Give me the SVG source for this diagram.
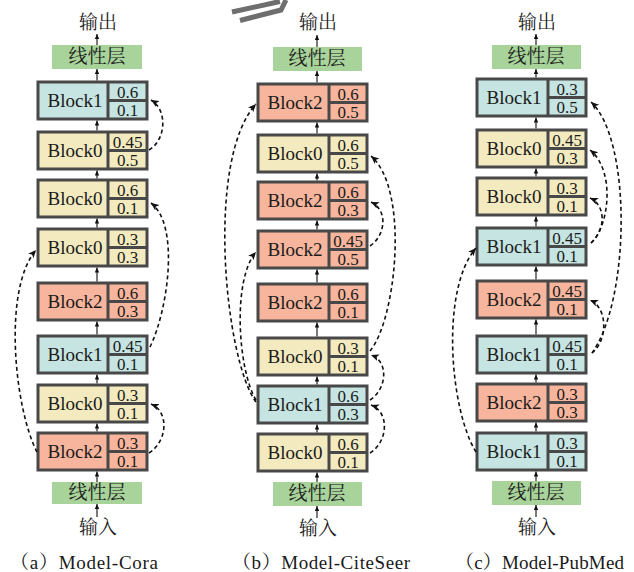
<svg xmlns="http://www.w3.org/2000/svg" width="634" height="572" viewBox="0 0 634 572" font-family="Liberation Serif, serif">
<defs>
<style>
.blk rect{stroke:#484848;stroke-width:3}
.blk line{stroke:#484848;stroke-width:3}
.t0 rect{fill:#f3eabf}
.t1 rect{fill:#c6e4e1}
.t2 rect{fill:#f6b59c}
.lbl{font-size:19px;text-anchor:middle;fill:#1a1a1a}
.val{font-size:17px;text-anchor:middle;fill:#1a1a1a}
.lin rect{fill:#a8d49b}
.cjk{font-size:19px;text-anchor:middle;fill:#1a1a1a}
.cap{font-size:19px;fill:#1a1a1a}
.sa{stroke:#333;stroke-width:1.3;fill:none;marker-end:url(#ah)}
.da{stroke:#111;stroke-width:1.6;fill:none;stroke-dasharray:4 3;marker-end:url(#dh)}
</style>
<marker id="ah" markerUnits="userSpaceOnUse" markerWidth="6" markerHeight="5" refX="5" refY="2.2" orient="auto"><path d="M0,0 L5,2.2 L0,4.4 z" fill="#111"/></marker>
<marker id="dh" markerUnits="userSpaceOnUse" markerWidth="9" markerHeight="8" refX="8" refY="3.5" orient="auto"><path d="M0,0 L8,3.5 L0,7 L2,3.5 z" fill="#111"/></marker>
</defs>
<rect width="634" height="572" fill="#fff"/>

<!-- stray mark -->
<g id="mark" fill="none" stroke="#6e6e6e" stroke-width="5">
<path d="M232,12 L280,1.5"/>
<path d="M240,20.5 L281,10 L286,0"/>
</g>

<!-- Panel a -->
<g id="a-out"><text class="cjk" font-family="Noto Serif CJK SC, Noto Sans CJK SC, serif" x="98" y="29">输出</text></g>
<g id="a-lin-top" class="lin"><rect x="52" y="45" width="90" height="24"/><text class="cjk" font-family="Noto Serif CJK SC, Noto Sans CJK SC, serif" x="97" y="63">线性层</text></g>
<g id="a1" class="blk t1" transform="translate(38,82)"><rect width="109" height="37"/><line x1="70" y1="0" x2="70" y2="37"/><line x1="70" y1="18.5" x2="109" y2="18.5"/><text class="lbl" x="37" y="25">Block1</text><text class="val" x="89.5" y="15.5">0.6</text><text class="val" x="89.5" y="33.5">0.1</text></g>
<g id="a2" class="blk t0" transform="translate(38,132)"><rect width="109" height="37"/><line x1="70" y1="0" x2="70" y2="37"/><line x1="70" y1="18.5" x2="109" y2="18.5"/><text class="lbl" x="37" y="25">Block0</text><text class="val" x="89.5" y="15.5">0.45</text><text class="val" x="89.5" y="33.5">0.5</text></g>
<g id="a3" class="blk t0" transform="translate(38,180)"><rect width="109" height="37"/><line x1="70" y1="0" x2="70" y2="37"/><line x1="70" y1="18.5" x2="109" y2="18.5"/><text class="lbl" x="37" y="25">Block0</text><text class="val" x="89.5" y="15.5">0.6</text><text class="val" x="89.5" y="33.5">0.1</text></g>
<g id="a4" class="blk t0" transform="translate(38,229)"><rect width="109" height="37"/><line x1="70" y1="0" x2="70" y2="37"/><line x1="70" y1="18.5" x2="109" y2="18.5"/><text class="lbl" x="37" y="25">Block0</text><text class="val" x="89.5" y="15.5">0.3</text><text class="val" x="89.5" y="33.5">0.3</text></g>
<g id="a5" class="blk t2" transform="translate(38,283)"><rect width="109" height="37"/><line x1="70" y1="0" x2="70" y2="37"/><line x1="70" y1="18.5" x2="109" y2="18.5"/><text class="lbl" x="37" y="25">Block2</text><text class="val" x="89.5" y="15.5">0.6</text><text class="val" x="89.5" y="33.5">0.3</text></g>
<g id="a6" class="blk t1" transform="translate(38,336)"><rect width="109" height="37"/><line x1="70" y1="0" x2="70" y2="37"/><line x1="70" y1="18.5" x2="109" y2="18.5"/><text class="lbl" x="37" y="25">Block1</text><text class="val" x="89.5" y="15.5">0.45</text><text class="val" x="89.5" y="33.5">0.1</text></g>
<g id="a7" class="blk t0" transform="translate(38,385)"><rect width="109" height="37"/><line x1="70" y1="0" x2="70" y2="37"/><line x1="70" y1="18.5" x2="109" y2="18.5"/><text class="lbl" x="37" y="25">Block0</text><text class="val" x="89.5" y="15.5">0.3</text><text class="val" x="89.5" y="33.5">0.1</text></g>
<g id="a8" class="blk t2" transform="translate(38,433)"><rect width="109" height="37"/><line x1="70" y1="0" x2="70" y2="37"/><line x1="70" y1="18.5" x2="109" y2="18.5"/><text class="lbl" x="37" y="25">Block2</text><text class="val" x="89.5" y="15.5">0.3</text><text class="val" x="89.5" y="33.5">0.1</text></g>
<g id="a-lin-bot" class="lin"><rect x="52" y="482" width="90" height="22"/><text class="cjk" font-family="Noto Serif CJK SC, Noto Sans CJK SC, serif" x="97" y="499">线性层</text></g>
<g id="a-in"><text class="cjk" font-family="Noto Serif CJK SC, Noto Sans CJK SC, serif" x="98" y="534">输入</text></g>
<g id="a-cap"><text class="cap" font-family="Liberation Serif, Noto Serif CJK SC, serif" x="10" y="569" textLength="148" lengthAdjust="spacing">（a）Model-Cora</text></g>

<!-- Panel b -->
<g id="b-out"><text class="cjk" font-family="Noto Serif CJK SC, Noto Sans CJK SC, serif" x="318" y="29">输出</text></g>
<g id="b-lin-top" class="lin"><rect x="273" y="47" width="89" height="24"/><text class="cjk" font-family="Noto Serif CJK SC, Noto Sans CJK SC, serif" x="317" y="65">线性层</text></g>
<g id="b1" class="blk t2" transform="translate(258,84)"><rect width="109" height="37"/><line x1="71" y1="0" x2="71" y2="37"/><line x1="71" y1="18.5" x2="109" y2="18.5"/><text class="lbl" x="37" y="25">Block2</text><text class="val" x="90" y="15.5">0.6</text><text class="val" x="90" y="33.5">0.5</text></g>
<g id="b2" class="blk t0" transform="translate(258,135)"><rect width="109" height="37"/><line x1="71" y1="0" x2="71" y2="37"/><line x1="71" y1="18.5" x2="109" y2="18.5"/><text class="lbl" x="37" y="25">Block0</text><text class="val" x="90" y="15.5">0.6</text><text class="val" x="90" y="33.5">0.5</text></g>
<g id="b3" class="blk t2" transform="translate(258,182)"><rect width="109" height="37"/><line x1="71" y1="0" x2="71" y2="37"/><line x1="71" y1="18.5" x2="109" y2="18.5"/><text class="lbl" x="37" y="25">Block2</text><text class="val" x="90" y="15.5">0.6</text><text class="val" x="90" y="33.5">0.3</text></g>
<g id="b4" class="blk t2" transform="translate(258,231)"><rect width="109" height="37"/><line x1="71" y1="0" x2="71" y2="37"/><line x1="71" y1="18.5" x2="109" y2="18.5"/><text class="lbl" x="37" y="25">Block2</text><text class="val" x="90" y="15.5">0.45</text><text class="val" x="90" y="33.5">0.5</text></g>
<g id="b5" class="blk t2" transform="translate(258,284)"><rect width="109" height="37"/><line x1="71" y1="0" x2="71" y2="37"/><line x1="71" y1="18.5" x2="109" y2="18.5"/><text class="lbl" x="37" y="25">Block2</text><text class="val" x="90" y="15.5">0.6</text><text class="val" x="90" y="33.5">0.1</text></g>
<g id="b6" class="blk t0" transform="translate(258,338)"><rect width="109" height="37"/><line x1="71" y1="0" x2="71" y2="37"/><line x1="71" y1="18.5" x2="109" y2="18.5"/><text class="lbl" x="37" y="25">Block0</text><text class="val" x="90" y="15.5">0.3</text><text class="val" x="90" y="33.5">0.1</text></g>
<g id="b7" class="blk t1" transform="translate(258,386)"><rect width="109" height="37"/><line x1="71" y1="0" x2="71" y2="37"/><line x1="71" y1="18.5" x2="109" y2="18.5"/><text class="lbl" x="37" y="25">Block1</text><text class="val" x="90" y="15.5">0.6</text><text class="val" x="90" y="33.5">0.3</text></g>
<g id="b8" class="blk t0" transform="translate(258,434)"><rect width="109" height="37"/><line x1="71" y1="0" x2="71" y2="37"/><line x1="71" y1="18.5" x2="109" y2="18.5"/><text class="lbl" x="37" y="25">Block0</text><text class="val" x="90" y="15.5">0.6</text><text class="val" x="90" y="33.5">0.1</text></g>
<g id="b-lin-bot" class="lin"><rect x="273" y="482" width="89" height="24"/><text class="cjk" font-family="Noto Serif CJK SC, Noto Sans CJK SC, serif" x="317" y="500">线性层</text></g>
<g id="b-in"><text class="cjk" font-family="Noto Serif CJK SC, Noto Sans CJK SC, serif" x="318" y="535">输入</text></g>
<g id="b-cap"><text class="cap" font-family="Liberation Serif, Noto Serif CJK SC, serif" x="232" y="569" textLength="178" lengthAdjust="spacing">（b）Model-CiteSeer</text></g>

<!-- Panel c -->
<g id="c-out"><text class="cjk" font-family="Noto Serif CJK SC, Noto Sans CJK SC, serif" x="537" y="29">输出</text></g>
<g id="c-lin-top" class="lin"><rect x="492" y="45" width="89" height="24"/><text class="cjk" font-family="Noto Serif CJK SC, Noto Sans CJK SC, serif" x="536" y="63">线性层</text></g>
<g id="c1" class="blk t1" transform="translate(477,79)"><rect width="109" height="37"/><line x1="71" y1="0" x2="71" y2="37"/><line x1="71" y1="18.5" x2="109" y2="18.5"/><text class="lbl" x="37" y="25">Block1</text><text class="val" x="90" y="15.5">0.3</text><text class="val" x="90" y="33.5">0.5</text></g>
<g id="c2" class="blk t0" transform="translate(477,130)"><rect width="109" height="37"/><line x1="71" y1="0" x2="71" y2="37"/><line x1="71" y1="18.5" x2="109" y2="18.5"/><text class="lbl" x="37" y="25">Block0</text><text class="val" x="90" y="15.5">0.45</text><text class="val" x="90" y="33.5">0.3</text></g>
<g id="c3" class="blk t0" transform="translate(477,178)"><rect width="109" height="37"/><line x1="71" y1="0" x2="71" y2="37"/><line x1="71" y1="18.5" x2="109" y2="18.5"/><text class="lbl" x="37" y="25">Block0</text><text class="val" x="90" y="15.5">0.3</text><text class="val" x="90" y="33.5">0.1</text></g>
<g id="c4" class="blk t1" transform="translate(477,228)"><rect width="109" height="37"/><line x1="71" y1="0" x2="71" y2="37"/><line x1="71" y1="18.5" x2="109" y2="18.5"/><text class="lbl" x="37" y="25">Block1</text><text class="val" x="90" y="15.5">0.45</text><text class="val" x="90" y="33.5">0.1</text></g>
<g id="c5" class="blk t2" transform="translate(477,281)"><rect width="109" height="37"/><line x1="71" y1="0" x2="71" y2="37"/><line x1="71" y1="18.5" x2="109" y2="18.5"/><text class="lbl" x="37" y="25">Block2</text><text class="val" x="90" y="15.5">0.45</text><text class="val" x="90" y="33.5">0.1</text></g>
<g id="c6" class="blk t1" transform="translate(477,336)"><rect width="109" height="37"/><line x1="71" y1="0" x2="71" y2="37"/><line x1="71" y1="18.5" x2="109" y2="18.5"/><text class="lbl" x="37" y="25">Block1</text><text class="val" x="90" y="15.5">0.45</text><text class="val" x="90" y="33.5">0.1</text></g>
<g id="c7" class="blk t2" transform="translate(477,384)"><rect width="109" height="37"/><line x1="71" y1="0" x2="71" y2="37"/><line x1="71" y1="18.5" x2="109" y2="18.5"/><text class="lbl" x="37" y="25">Block2</text><text class="val" x="90" y="15.5">0.3</text><text class="val" x="90" y="33.5">0.3</text></g>
<g id="c8" class="blk t1" transform="translate(477,433)"><rect width="109" height="37"/><line x1="71" y1="0" x2="71" y2="37"/><line x1="71" y1="18.5" x2="109" y2="18.5"/><text class="lbl" x="37" y="25">Block1</text><text class="val" x="90" y="15.5">0.3</text><text class="val" x="90" y="33.5">0.1</text></g>
<g id="c-lin-bot" class="lin"><rect x="492" y="481" width="89" height="24"/><text class="cjk" font-family="Noto Serif CJK SC, Noto Sans CJK SC, serif" x="536" y="499">线性层</text></g>
<g id="c-in"><text class="cjk" font-family="Noto Serif CJK SC, Noto Sans CJK SC, serif" x="537" y="534">输入</text></g>
<g id="c-cap"><text class="cap" font-family="Liberation Serif, Noto Serif CJK SC, serif" x="455" y="569" textLength="169" lengthAdjust="spacing">（c）Model-PubMed</text></g>

<!-- Connectors -->
<g id="connectors">
<path class="sa" d="M97,45 V34"/>
<path class="sa" d="M97,80.5 V69"/>
<path class="sa" d="M97,130.5 V120.5"/>
<path class="sa" d="M97,178.5 V170.5"/>
<path class="sa" d="M97,227.5 V218.5"/>
<path class="sa" d="M97,281.5 V267.5"/>
<path class="sa" d="M97,334.5 V321.5"/>
<path class="sa" d="M97,383.5 V374.5"/>
<path class="sa" d="M97,431.5 V423.5"/>
<path class="sa" d="M97,482 V471.5"/>
<path class="sa" d="M97,517 V504"/>
<path class="sa" d="M317,47 V35"/>
<path class="sa" d="M317,82.5 V71"/>
<path class="sa" d="M317,133.5 V122.5"/>
<path class="sa" d="M317,180.5 V173.5"/>
<path class="sa" d="M317,229.5 V220.5"/>
<path class="sa" d="M317,282.5 V269.5"/>
<path class="sa" d="M317,336.5 V322.5"/>
<path class="sa" d="M317,384.5 V376.5"/>
<path class="sa" d="M317,432.5 V424.5"/>
<path class="sa" d="M317,482 V472.5"/>
<path class="sa" d="M317,518 V506"/>
<path class="sa" d="M536,45 V34"/>
<path class="sa" d="M536,77.5 V69"/>
<path class="sa" d="M536,128.5 V117.5"/>
<path class="sa" d="M536,176.5 V168.5"/>
<path class="sa" d="M536,226.5 V216.5"/>
<path class="sa" d="M536,279.5 V266.5"/>
<path class="sa" d="M536,334.5 V319.5"/>
<path class="sa" d="M536,382.5 V374.5"/>
<path class="sa" d="M536,431.5 V422.5"/>
<path class="sa" d="M536,481 V471.5"/>
<path class="sa" d="M536,517 V505"/>
<path class="da" d="M149,150 C166,140 168,110 151,100"/>
<path class="da" d="M150,347 C168,310 180,225 151,203"/>
<path class="da" d="M37,452 C15,410 2,290 36,250"/>
<path class="da" d="M149,453 C167,442 170,412 151,404"/>
<path class="da" d="M256,402 C225,360 205,160 256,104"/>
<path class="da" d="M256,400 C238,370 232,280 256,252"/>
<path class="da" d="M370,246 C386,235 388,210 371,202"/>
<path class="da" d="M370,351 C396,320 410,190 371,156"/>
<path class="da" d="M370,400 C386,390 390,362 371,355"/>
<path class="da" d="M370,453 C388,442 390,412 371,405"/>
<path class="da" d="M476,452 C450,410 440,290 476,248"/>
<path class="da" d="M591,243 C606,230 606,205 590,198"/>
<path class="da" d="M591,243 C610,225 615,170 590,150"/>
<path class="da" d="M592,353 C608,340 608,308 590,300"/>
<path class="da" d="M592,353 C630,300 632,140 591,102"/>
</g>
</svg>
